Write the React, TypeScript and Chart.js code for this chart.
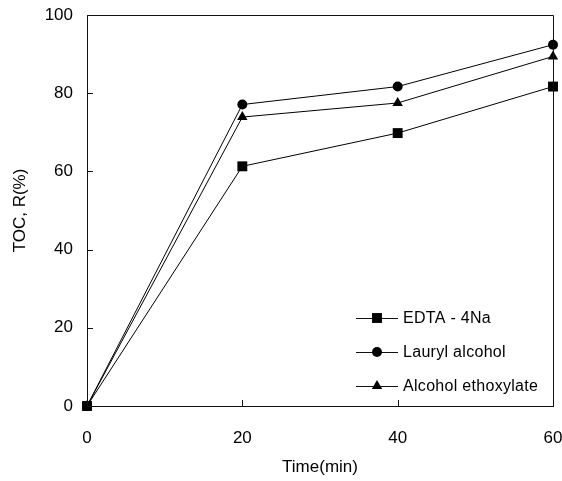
import React, { useEffect, useRef } from "react";
import { Chart, registerables } from "chart.js";

Chart.register(...registerables);

const times = [0, 20, 40, 60];
const edta = [0, 61.3, 69.8, 81.7];
const lauryl = [0, 77.1, 81.7, 92.4];
const ethoxylate = [0, 73.9, 77.5, 89.4];
const seriesNames = ["EDTA - 4Na", "Lauryl alcohol", "Alcohol ethoxylate"];
const pointStyles = ["rect", "circle", "triangle"];
const pointRadii = [7, 5, 6];
const xTicks = [0, 20, 40, 60];
const yTicks = [0, 20, 40, 60, 80, 100];
const xTitle = "Time(min)";
const yTitle = "TOC, R(%)";

const FONT = "'Liberation Sans', Arial, sans-serif";

function drawMarker(ctx: CanvasRenderingContext2D, style: string, x: number, y: number, r: number) {
  ctx.beginPath();
  if (style === "rect") {
    const s = r / Math.SQRT2;
    ctx.rect(x - s, y - s, 2 * s, 2 * s);
  } else if (style === "circle") {
    ctx.arc(x, y, r, 0, Math.PI * 2);
  } else {
    const half = (r * Math.sqrt(3)) / 2;
    ctx.moveTo(x, y - r);
    ctx.lineTo(x + half, y + r / 2);
    ctx.lineTo(x - half, y + r / 2);
    ctx.closePath();
  }
  ctx.fill();
}

const framePlugin = {
  id: "frame",
  afterDraw(chart: any) {
    const { ctx, chartArea } = chart;
    const xs = chart.scales.x;
    const ys = chart.scales.y;
    ctx.save();
    ctx.strokeStyle = "#111";
    ctx.lineWidth = 1;
    ctx.beginPath();
    ctx.moveTo(chartArea.left, chartArea.top + 0.5);
    ctx.lineTo(chartArea.right + 0.5, chartArea.top + 0.5);
    ctx.lineTo(chartArea.right + 0.5, chartArea.bottom);
    ctx.stroke();
    ctx.beginPath();
    for (const v of xTicks) {
      const px = Math.round(xs.getPixelForValue(v)) + 0.5;
      ctx.moveTo(px, chartArea.bottom);
      ctx.lineTo(px, chartArea.bottom - 6);
    }
    for (const v of yTicks) {
      const py = Math.round(ys.getPixelForValue(v)) + 0.5;
      ctx.moveTo(chartArea.left, py);
      ctx.lineTo(chartArea.left + 6, py);
    }
    ctx.stroke();
    const rows = [318, 352, 386];
    ctx.font = `16px ${FONT}`;
    (ctx as any).letterSpacing = "0.3px";
    ctx.textBaseline = "middle";
    ctx.textAlign = "left";
    ctx.fillStyle = "#000";
    seriesNames.forEach((name, i) => {
      const y = rows[i];
      ctx.beginPath();
      ctx.moveTo(356, y + 0.5);
      ctx.lineTo(398, y + 0.5);
      ctx.stroke();
      drawMarker(ctx, pointStyles[i], 377, y, pointRadii[i]);
      ctx.fillText(name, 403, y + 1);
    });
    ctx.restore();
  },
};

export default function App() {
  const ref = useRef<HTMLCanvasElement | null>(null);
  useEffect(() => {
    if (!ref.current) return;
    const seriesValues = [edta, lauryl, ethoxylate];
    const chart = new Chart(ref.current, {
      type: "line",
      data: {
        datasets: seriesValues.map((vals, i) => ({
          label: seriesNames[i],
          data: times.map((t, j) => ({ x: t, y: vals[j] })),
          borderColor: "#000",
          backgroundColor: "#000",
          borderWidth: 1,
          pointStyle: pointStyles[i] as any,
          pointRadius: pointRadii[i],
          pointBorderWidth: 0,
          pointBackgroundColor: "#000",
          tension: 0,
          clip: false as any,
        })),
      },
      options: {
        animation: false,
        responsive: false,
        devicePixelRatio: 1,
        layout: { padding: { top: 15, right: 9, left: 0, bottom: 0 } },
        plugins: { legend: { display: false }, tooltip: { enabled: false } },
        scales: {
          x: {
            type: "linear",
            min: 0,
            max: 60,
            afterBuildTicks: (s: any) => {
              s.ticks = xTicks.map((v) => ({ value: v }));
            },
            ticks: { color: "#000", font: { size: 17, family: FONT }, padding: 22, maxRotation: 0 },
            grid: { display: false, drawTicks: false },
            border: { display: true, color: "#111", width: 1 },
            title: { display: true, text: xTitle, color: "#000", font: { size: 17, family: FONT }, padding: { top: 4, bottom: 3 } },
            afterFit: (s: any) => {
              s.height = 75;
              s.paddingLeft = 0;
              s.paddingRight = 0;
            },
          },
          y: {
            type: "linear",
            min: 0,
            max: 100,
            afterBuildTicks: (s: any) => {
              s.ticks = yTicks.map((v) => ({ value: v }));
            },
            ticks: { color: "#000", font: { size: 17, family: FONT }, padding: 14 },
            grid: { display: false, drawTicks: false },
            border: { display: true, color: "#111", width: 1 },
            title: { display: true, text: yTitle, color: "#000", font: { size: 17, family: FONT }, padding: { top: 10, bottom: 0 } },
            afterFit: (s: any) => {
              s.width = 87;
              s.paddingTop = 0;
              s.paddingBottom = 0;
            },
          },
        },
      },
      plugins: [framePlugin],
    });
    return () => chart.destroy();
  }, []);
  return (
    <div style={{ position: "fixed", left: 0, top: 0, width: 562, height: 481, background: "#fff" }}>
      <canvas ref={ref} width={562} height={481} />
    </div>
  );
}
